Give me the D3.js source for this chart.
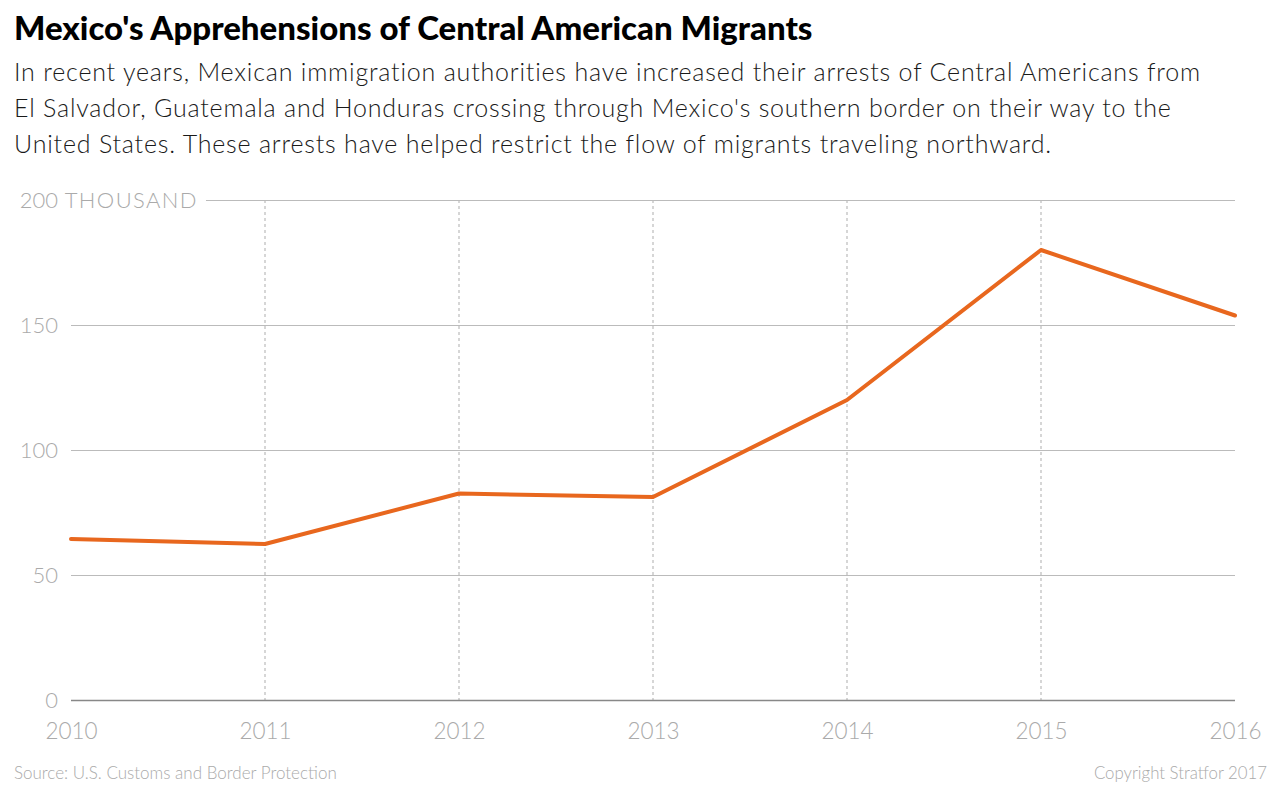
<!DOCTYPE html>
<html>
<head>
<meta charset="utf-8">
<script src="https://cdn.jsdelivr.net/npm/d3@7"></script>
<style>
  body { margin: 0; background: #fff; }
  svg text { font-family: Lato, "Open Sans", sans-serif; }
</style>
</head>
<body>
<div id="chart"></div>
<script>
// data (thousands of apprehensions)
const years = [2010, 2011, 2012, 2013, 2014, 2015, 2016];
const apprehensions = [64.4, 62.4, 82.6, 81.2, 120, 180, 153.8];
const yTicks = [0, 50, 100, 150, 200];
const yUnit = "THOUSAND";

const title = "Mexico's Apprehensions of Central American Migrants";
const subtitle = [
  "In recent years, Mexican immigration authorities have increased their arrests of Central Americans from",
  "El Salvador, Guatemala and Honduras crossing through Mexico's southern border on their way to the",
  "United States. These arrests have helped restrict the flow of migrants traveling northward."
];
const source = "Source: U.S. Customs and Border Protection";
const copyright = "Copyright Stratfor 2017";

const W = 1280, H = 789;
const plotLeft = 71, plotRight = 1235, plotTop = 200, plotBottom = 700;

const svg = d3.select("#chart").append("svg")
  .attr("width", W).attr("height", H);

svg.append("text")
  .attr("x", 14).attr("y", 40)
  .attr("font-size", 33).attr("font-weight", 900)
  .attr("fill", "#000")
  .text(title);

svg.selectAll(".sub").data(subtitle).enter().append("text")
  .attr("class", "sub")
  .attr("x", 14).attr("y", (d, i) => 81 + i * 36)
  .attr("font-size", 25).attr("font-weight", 300)
  .attr("letter-spacing", 0.8)
  .attr("fill", "#1a1a1a")
  .text(d => d);

const x = d3.scaleLinear().domain([2010, 2016]).range([plotLeft, plotRight]);
const y = d3.scaleLinear().domain([0, 200]).range([plotBottom, plotTop]);

// vertical dotted year lines
svg.append("g").selectAll("line")
  .data(years.slice(1, -1)).enter().append("line")
  .attr("x1", d => x(d)).attr("x2", d => x(d))
  .attr("y1", plotTop).attr("y2", plotBottom)
  .attr("stroke", "#bbb").attr("stroke-width", 1.2)
  .attr("stroke-dasharray", "3,3");

// horizontal grid
const yAxis = d3.axisLeft(y).tickValues(yTicks)
  .tickSize(-(plotRight - plotLeft)).tickPadding(13);
const gy = svg.append("g").attr("transform", `translate(${plotLeft},0)`);
gy.call(yAxis);
gy.select(".domain").remove();
gy.selectAll(".tick line")
  .attr("stroke", d => d === 0 ? "#888" : "#bbb")
  .attr("stroke-width", d => d === 0 ? 1.3 : 1);
gy.selectAll(".tick text")
  .attr("dy", "0.35em")
  .attr("font-size", 22).attr("font-weight", 300)
  .attr("fill", "#aaa");
// top label carries the unit, and its grid line starts after it
gy.selectAll(".tick").filter(d => d === 200).each(function () {
  const t = d3.select(this).select("text");
  t.attr("text-anchor", "start").text(null);
  t.append("tspan").text(d3.format("d")(200));
  t.append("tspan").attr("letter-spacing", 1.4).text(" " + yUnit);
  // shift so the number stays right aligned with the others
  const numW = t.select("tspan").node().getComputedTextLength();
  t.attr("x", -13 - numW);
  const bb = t.node().getBBox();
  d3.select(this).select("line")
    .attr("x1", bb.x + bb.width + 8).attr("x2", plotRight - plotLeft);
});

// x axis labels
const xAxis = d3.axisBottom(x).tickValues(years).tickSize(0).tickFormat(d3.format("d"));
const gx = svg.append("g").attr("transform", `translate(0,${plotBottom})`);
gx.call(xAxis);
gx.select(".domain").remove();
gx.selectAll(".tick text")
  .attr("y", 31).attr("dy", "0.35em")
  .attr("font-size", 22.5).attr("font-weight", 300)
  .attr("fill", "#aaa");

// line
const line = d3.line().x((d, i) => x(years[i])).y(d => y(d));
svg.append("path")
  .datum(apprehensions)
  .attr("d", line)
  .attr("fill", "none")
  .attr("stroke", "#e8671e")
  .attr("stroke-width", 4)
  .attr("stroke-linejoin", "round")
  .attr("stroke-linecap", "round");

svg.append("text")
  .attr("x", 14).attr("y", 779)
  .attr("font-size", 17).attr("font-weight", 300)
  .attr("fill", "#aaa")
  .text(source);

svg.append("text")
  .attr("x", 1267).attr("y", 779)
  .attr("text-anchor", "end")
  .attr("font-size", 16.8).attr("font-weight", 300)
  .attr("fill", "#aaa")
  .text(copyright);
</script>
</body>
</html>
